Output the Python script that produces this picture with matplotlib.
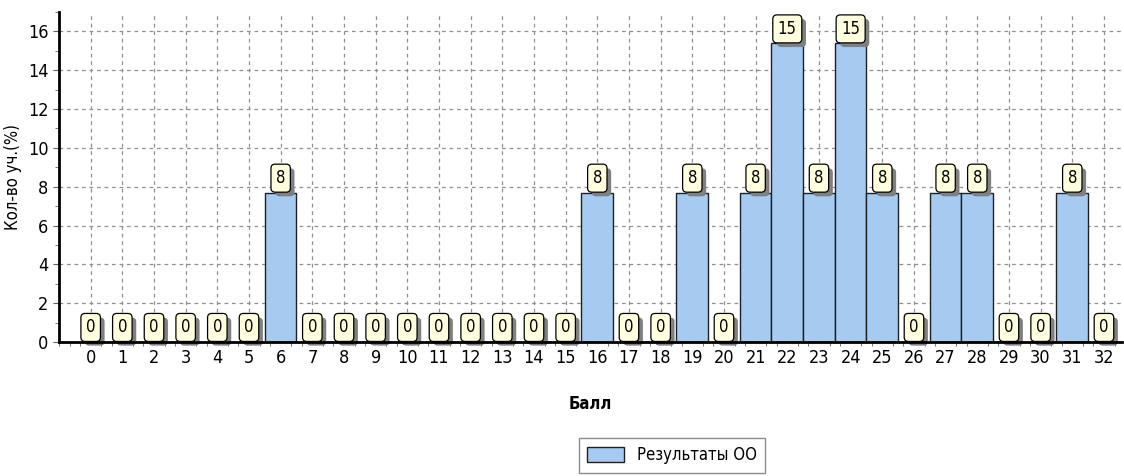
import matplotlib.pyplot as plt
import matplotlib.patheffects as pe
from matplotlib.ticker import MultipleLocator

# Баллы и доля участников (%)
scores = list(range(33))
percent = [0, 0, 0, 0, 0, 0, 7.69, 0, 0, 0, 0, 0, 0, 0, 0, 0, 7.69, 0, 0, 7.69,
           0, 7.69, 15.38, 7.69, 15.38, 7.69, 0, 7.69, 7.69, 0, 0, 7.69, 0]
labels = [str(round(p)) for p in percent]

plt.rcParams['font.family'] = ['Liberation Sans Narrow', 'DejaVu Sans Condensed', 'DejaVu Sans']
plt.rcParams['font.stretch'] = 'condensed'

fig = plt.figure(figsize=(11.24, 4.76), dpi=100)
ax = fig.add_axes([59 / 1124, 134 / 476, 1063 / 1124, 330 / 476])

bars = ax.bar(scores, percent, width=1.0, color='#A6CAF0', edgecolor='#202020',
              linewidth=1.0, zorder=3, label='Результаты ОО')

# подписи значений в жёлтых рамках с тенью
shadow = [pe.withSimplePatchShadow(offset=(3, -3), shadow_rgbFace='#808080', alpha=1.0)]
for x, p, lab in zip(scores, percent, labels):
    t = ax.annotate(lab, (x, p), xytext=(0, 4), textcoords='offset points',
                    ha='center', va='bottom', fontsize=12, color='black', zorder=5,
                    bbox=dict(boxstyle='round,pad=0.3,rounding_size=0.25',
                              fc='#FFFFE0', ec='black', lw=0.9))
    t.get_bbox_patch().set_path_effects(shadow)

ax.set_xlim(-1.0, 32.57)
ax.set_ylim(0, 17)
ax.set_xticks(scores)
ax.set_xticklabels([str(s) for s in scores])
ax.yaxis.set_major_locator(MultipleLocator(2))
ax.yaxis.set_minor_locator(MultipleLocator(1))
ax.xaxis.set_minor_locator(MultipleLocator(1 / 3))

ax.grid(True, which='major', color='#909090', linestyle=(0, (3, 3)), linewidth=0.9, zorder=0)
for s in ['top', 'right']:
    ax.spines[s].set_visible(False)
for s in ['left', 'bottom']:
    ax.spines[s].set_linewidth(2)
    ax.spines[s].set_zorder(6)

ax.tick_params(axis='both', which='major', labelsize=13, length=4, color='#606060')
ax.tick_params(axis='x', which='major', length=0, pad=5)
ax.tick_params(axis='both', which='minor', length=3, color='#606060')

ax.set_xlabel('Балл', fontsize=12, fontweight='bold', labelpad=20)
ax.set_ylabel('Кол-во уч.(%)', fontsize=12, labelpad=4)

leg = fig.legend(handles=[bars], loc='upper center', bbox_to_anchor=(672 / 1124, 38 / 476),
                 borderaxespad=0, fontsize=12, fancybox=False, shadow=False, edgecolor='#707070',
                 handlelength=2.2, handleheight=1.0, borderpad=0.5)
leg.get_frame().set_linewidth(1.0)

fig.savefig('out.png', dpi=100)
